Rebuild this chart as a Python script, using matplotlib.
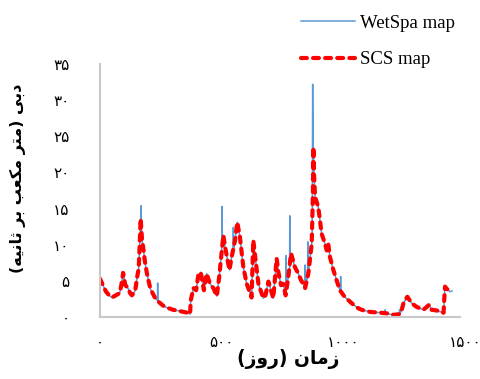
import matplotlib
matplotlib.use('Agg')
import matplotlib.pyplot as plt
from matplotlib.font_manager import FontProperties

# ---------------- data ----------------
scs_day = [0, 12, 25, 40, 49, 60, 70, 81, 88, 95, 104, 115, 124, 131, 140, 145, 152, 159, 163, 167,
           170, 173, 178, 184, 193, 207, 227, 241, 258, 275, 300, 330, 358, 370, 373, 384, 395, 404,
           414, 427, 438, 452, 466, 480, 490, 500, 507, 514, 532, 541, 555, 564, 575, 589, 603, 623,
           630, 641, 651, 671, 680, 692, 706, 712, 726, 733, 744, 753, 763, 774, 785, 801, 815, 826,
           835, 843, 856, 863, 870, 875, 877, 880, 884, 897, 911, 925, 932, 938, 945, 959, 975, 986,
           1005, 1028, 1045, 1062, 1075, 1110, 1151, 1180, 1206, 1233, 1240, 1247, 1263, 1281, 1301,
           1329, 1353, 1363, 1384, 1408, 1412, 1415, 1418, 1425, 1432, 1438, 1445]
scs_val = [5.3, 4.4, 3.5, 2.9, 2.7, 2.9, 3.1, 3.3, 4.5, 6.1, 4.4, 4.0, 3.3, 3.0, 3.4, 3.7, 5.4, 6.7, 9.9, 13.6,
           12.0, 10.6, 9.5, 7.8, 6.0, 3.9, 2.6, 2.1, 1.6, 1.3, 1.0, 0.8, 0.6, 0.4, 2.3, 4.0, 3.7, 5.8,
           6.2, 3.7, 6.0, 4.6, 4.0, 2.9, 5.6, 9.0, 11.3, 9.7, 6.5, 8.3, 10.6, 13.1, 11.1, 6.9, 4.6, 2.7,
           10.6, 7.4, 4.6, 2.6, 3.0, 4.9, 3.3, 2.6, 8.1, 6.2, 4.4, 4.6, 3.0, 5.6, 8.8, 6.9, 6.0, 5.1,
           4.6, 4.0, 6.0, 8.0, 10.1, 17.0, 23.5, 19.3, 16.6, 15.2, 11.5, 10.1, 9.2, 10.1, 8.3, 6.5, 4.8, 3.7,
           2.8, 2.1, 1.6, 1.2, 1.0, 0.7, 0.6, 0.5, 0.3, 0.4, 1.0, 1.9, 2.8, 1.9, 1.4,
           1.0, 1.7, 1.0, 0.9, 0.6, 0.6, 2.6, 4.2, 3.9, 3.7, 3.5, 3.6]

wet_day = [0, 12, 25, 40, 49, 60, 70, 81, 88, 95, 104, 115, 124, 131, 140, 145, 152, 159, 163, 167,
           169, 171, 173, 178, 184, 193, 207, 227, 236, 237, 238, 241, 258, 275, 300, 330, 358, 370, 373,
           384, 395, 404, 414, 427, 438, 452, 466, 480, 490, 500, 501, 502, 507, 514, 532, 541, 546, 548,
           550, 555, 564, 575, 589, 603, 623, 630, 641, 651, 671, 680, 692, 706, 712, 726, 733, 744, 753,
           763, 764, 766, 774, 779, 780, 781, 785, 801, 815, 826, 835, 842, 843, 845, 853, 854, 856, 863,
           870, 872, 874, 876, 877, 880, 884, 897, 911, 925, 932, 938, 945, 959, 975, 986, 988, 989, 990,
           1005, 1028, 1045, 1062, 1075, 1110, 1151, 1170, 1172, 1174, 1206, 1230, 1231, 1233, 1240, 1247,
           1263, 1281, 1301, 1329, 1353, 1363, 1384, 1408, 1412, 1415, 1418, 1425, 1432, 1438, 1447]
wet_val = [5.3, 4.4, 3.5, 2.9, 2.7, 2.9, 3.1, 3.3, 4.5, 6.1, 4.4, 4.0, 3.3, 3.0, 3.4, 3.7, 5.4, 6.7, 9.9, 13.6,
           15.4, 11.5, 10.6, 9.5, 7.8, 6.0, 3.9, 2.6, 2.3, 4.7, 2.2, 2.1, 1.6, 1.3, 1.0, 0.8, 0.6, 0.4, 2.3,
           4.0, 3.7, 5.8, 6.2, 3.7, 6.0, 4.6, 4.0, 2.9, 5.6, 9.0, 15.3, 10.0, 11.3, 9.7, 6.5, 8.3, 9.0, 12.4,
           9.5, 10.6, 13.1, 11.1, 6.9, 4.6, 2.7, 10.6, 7.4, 4.6, 2.6, 3.0, 4.9, 3.3, 2.6, 8.1, 6.2, 4.4, 4.6,
           3.0, 8.5, 4.0, 5.6, 6.5, 14.0, 7.0, 8.8, 6.9, 6.0, 5.1, 4.6, 4.0, 7.2, 4.5, 5.5, 10.4, 6.0, 8.0,
           10.1, 11.0, 32.2, 22.0, 23.5, 19.3, 16.6, 15.2, 11.5, 10.1, 9.2, 10.1, 8.3, 6.5, 4.8, 3.7, 3.6, 5.6, 3.5,
           2.8, 2.1, 1.6, 1.2, 1.0, 0.7, 0.6, 0.5, 1.0, 0.5, 0.3, 0.4, 1.0, 0.4, 1.0, 1.9,
           2.8, 1.9, 1.4, 1.0, 1.7, 1.0, 0.9, 0.6, 0.6, 2.6, 4.2, 3.9, 3.7, 3.5, 3.6]

series_names = ['WetSpa map', 'SCS map']
x_ticks = [0, 500, 1000, 1500]
x_tick_labels = ['۰', '۵۰۰', '۱۰۰۰', '۱۵۰۰']
y_ticks = [0, 5, 10, 15, 20, 25, 30, 35]
y_tick_labels = ['۰', '۵', '۱۰', '۱۵', '۲۰', '۲۵', '۳۰', '۳۵']
x_label = 'زمان (روز)'
y_label = 'دبی (متر مکعب بر ثانیه)'

# ---------------- minimal Arabic-script shaping for display ----------------
FORMS = {
    'ا': ('\uFE8D', '\uFE8E', '\uFE8D', '\uFE8E'),
    'ب': ('\uFE8F', '\uFE90', '\uFE91', '\uFE92'),
    'ت': ('\uFE95', '\uFE96', '\uFE97', '\uFE98'),
    'ث': ('\uFE99', '\uFE9A', '\uFE9B', '\uFE9C'),
    'د': ('\uFEA9', '\uFEAA', '\uFEA9', '\uFEAA'),
    'ر': ('\uFEAD', '\uFEAE', '\uFEAD', '\uFEAE'),
    'ز': ('\uFEAF', '\uFEB0', '\uFEAF', '\uFEB0'),
    'ع': ('\uFEC9', '\uFECA', '\uFECB', '\uFECC'),
    'م': ('\uFEE1', '\uFEE2', '\uFEE3', '\uFEE4'),
    'ن': ('\uFEE5', '\uFEE6', '\uFEE7', '\uFEE8'),
    'ه': ('\uFEE9', '\uFEEA', '\uFEEB', '\uFEEC'),
    'و': ('\uFEED', '\uFEEE', '\uFEED', '\uFEEE'),
    'ک': ('\uFB8E', '\uFB8F', '\uFB90', '\uFB91'),
    'ی': ('\uFBFC', '\uFBFD', '\uFBFE', '\uFBFF'),
}
DUAL = set('بتثعمنهکی')


def shape(s):
    out = []
    for i, c in enumerate(s):
        if c not in FORMS:
            out.append(c)
            continue
        prev = s[i - 1] if i > 0 else ''
        nxt = s[i + 1] if i < len(s) - 1 else ''
        jp = prev in DUAL
        jn = (c in DUAL) and (nxt in FORMS)
        iso, fin, ini, med = FORMS[c]
        out.append(med if (jp and jn) else fin if jp else ini if jn else iso)
    return ''.join(reversed(out)).translate(str.maketrans('()', ')('))


# ---------------- figure ----------------
W, H = 481, 379
fig = plt.figure(figsize=(W / 100, H / 100), dpi=100)
ax = fig.add_axes([100 / W, 62 / H, 365 / W, (317 - 64) / H])

l1, = ax.plot(wet_day, wet_val, color='#5B9BD5', lw=1.1, label=series_names[0])
l2, = ax.plot(scs_day, scs_val, color='#FF0000', lw=3.0, ls=(0, (1.4, 1.5)),
              dash_capstyle='round', label=series_names[1])

ax.set_xlim(0, 1500)
ax.set_ylim(0, 35)
ax.set_xticks(x_ticks)
ax.set_xticklabels(x_tick_labels)
ax.set_yticks(y_ticks)
ax.set_yticklabels(y_tick_labels)
ax.tick_params(axis='both', length=0, labelsize=11)
ax.tick_params(axis='y', pad=22)
ax.tick_params(axis='x', pad=13)
for lab in ax.get_xticklabels() + ax.get_yticklabels():
    lab.set_family('DejaVu Sans')

for s in ('top', 'right'):
    ax.spines[s].set_visible(False)
for s in ('left', 'bottom'):
    ax.spines[s].set_color('#C8C8C8')
    ax.spines[s].set_linewidth(1.5)
ax.spines['bottom'].set_bounds(0, 1480)

fig.text(288 / W, 1 - 359 / H, shape(x_label), ha='center', va='center',
         fontsize=13.5, fontweight='bold', family='DejaVu Sans')
fig.text(18 / W, 1 - 178 / H, shape(y_label), ha='center', va='center', rotation=90,
         fontsize=11.5, fontweight='bold', family='DejaVu Sans')

leg = fig.legend(handles=[l1, l2], loc='upper left', bbox_to_anchor=(292 / W, 1 - 5 / H),
                 bbox_transform=fig.transFigure, frameon=False, borderpad=0,
                 handlelength=2.85, handletextpad=0.3, labelspacing=1.05,
                 prop=FontProperties(family='Liberation Serif', size=13.5))

fig.savefig('out.png', dpi=100)
